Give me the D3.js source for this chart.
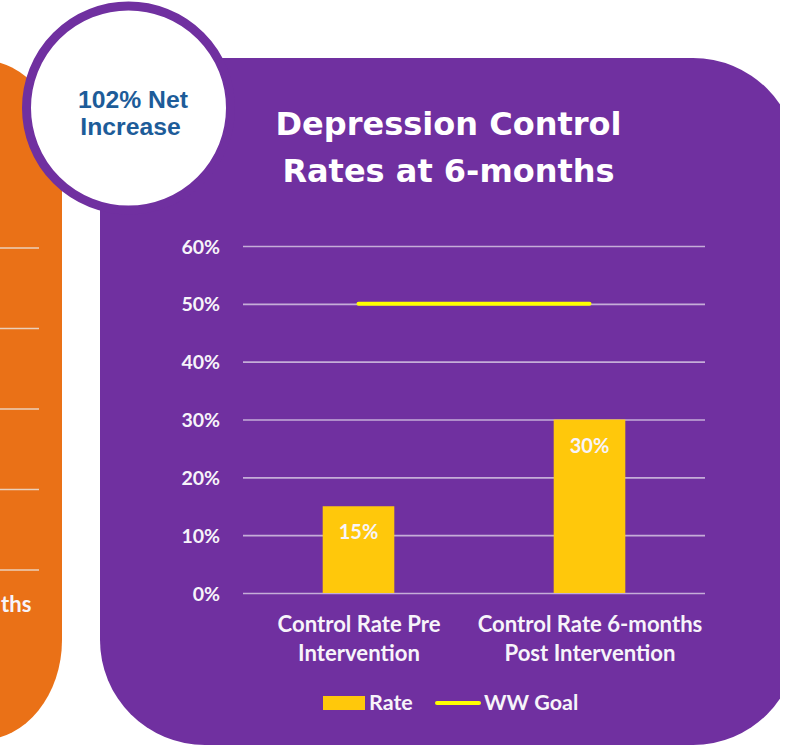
<!DOCTYPE html>
<html>
<head>
<meta charset="utf-8">
<script src="https://cdn.jsdelivr.net/npm/d3@7"></script>
<style>
  html, body { margin: 0; padding: 0; background: #ffffff; }
  svg { display: block; }
</style>
</head>
<body>
<svg id="chart" width="790" height="747"></svg>
<script>
// ---------- data ----------
const categories = [
  ["Control Rate Pre", "Intervention"],
  ["Control Rate 6-months", "Post Intervention"]
];
const rates = [0.15, 0.30];
const goal = [0.50, 0.50];
const yTicks = [0, 0.1, 0.2, 0.3, 0.4, 0.5, 0.6];
const titleLines = ["Depression Control", "Rates at 6-months"];
const badgeLines = ["102% Net", "Increase"];
const legendItems = ["Rate", "WW Goal"];
// partially visible neighbouring chart (orange panel)
const orangeTicks = [0, 1, 2, 3, 4];
const orangeLabel = "ths";

// ---------- colours ----------
const PURPLE = "#7030a0";
const ORANGE = "#ea7117";
const BAR = "#ffc80b";
const GOAL = "#ffff00";
const GRID = "rgba(225,215,235,0.75)";
const TEXT = "#f7f4fa";
const BADGE = "#1d5c99";

const svg = d3.select("#chart");

function fit(sel, target) {
  const w = sel.node().getComputedTextLength();
  const fs = parseFloat(sel.attr("font-size"));
  sel.attr("font-size", fs * target / w);
  return fs * target / w;
}

// ---------- orange neighbour panel ----------
svg.append("rect")
  .attr("x", -100).attr("y", 60).attr("width", 162).attr("height", 680)
  .attr("rx", 100).attr("ry", 100).attr("fill", ORANGE);

const yo = d3.scaleLinear().domain([0, 4]).range([570, 248]);
svg.append("g").selectAll("line").data(orangeTicks).join("line")
  .attr("x1", 0).attr("x2", 39)
  .attr("y1", d => yo(d)).attr("y2", d => yo(d))
  .attr("stroke", "rgba(235,225,215,0.85)").attr("stroke-width", 1.6);

// ---------- purple panel ----------
svg.append("rect")
  .attr("x", 100).attr("y", 58).attr("width", 698).attr("height", 687)
  .attr("rx", 105).attr("ry", 105).attr("fill", PURPLE);
svg.append("rect")
  .attr("x", 780).attr("y", 0).attr("width", 10).attr("height", 747)
  .attr("fill", "#ffffff");

// ---------- scales ----------
const x = d3.scaleBand().domain(d3.range(categories.length))
  .range([243, 705]).paddingInner(0.69).paddingOuter(0.345);
const y = d3.scaleLinear().domain([0, 0.6]).range([593, 246]);

// ---------- y axis + grid ----------
const yAxis = d3.axisLeft(y).tickValues(yTicks)
  .tickFormat(d3.format(".0%"))
  .tickSize(-(705 - 243)).tickPadding(23);
const gy = svg.append("g").attr("transform", "translate(243,0)").call(yAxis);
gy.select(".domain").remove();
gy.selectAll(".tick line").attr("stroke", GRID).attr("stroke-width", 1.6);
gy.selectAll(".tick text")
  .attr("fill", TEXT).attr("font-family", "Lato, 'Open Sans', sans-serif")
  .attr("font-weight", 700).attr("font-size", 19.5).attr("dy", "0.36em");

// ---------- bars ----------
svg.append("g").selectAll("rect").data(rates).join("rect")
  .attr("x", (d, i) => x(i)).attr("width", x.bandwidth())
  .attr("y", d => y(d)).attr("height", d => y(0) - y(d))
  .attr("fill", BAR);

svg.append("g").selectAll("text").data(rates).join("text")
  .attr("x", (d, i) => x(i) + x.bandwidth() / 2)
  .attr("y", d => y(d) + 33)
  .attr("text-anchor", "middle")
  .attr("fill", TEXT).attr("font-family", "Lato, 'Open Sans', sans-serif")
  .attr("font-weight", 700).attr("font-size", 20)
  .text(d => d3.format(".0%")(d));

// ---------- goal line ----------
const line = d3.line()
  .x((d, i) => x(i) + x.bandwidth() / 2)
  .y(d => y(d));
svg.append("path").datum(goal)
  .attr("d", line).attr("fill", "none")
  .attr("stroke", GOAL).attr("stroke-width", 4).attr("stroke-linecap", "round");

// ---------- category labels ----------
const probe = svg.append("text")
  .attr("font-family", "Lato, 'Open Sans', sans-serif").attr("font-weight", 700)
  .attr("font-size", 20).text(categories[0][0]);
const catSize = fit(probe, 163);
probe.remove();

const catG = svg.append("g").selectAll("text").data(categories).join("text")
  .attr("x", (d, i) => x(i) + x.bandwidth() / 2 + 0.5)
  .attr("text-anchor", "middle")
  .attr("fill", TEXT).attr("font-family", "Lato, 'Open Sans', sans-serif")
  .attr("font-weight", 700).attr("font-size", catSize);
catG.selectAll("tspan").data(d => d).join("tspan")
  .attr("x", function () { return d3.select(this.parentNode).attr("x"); })
  .attr("y", (d, j) => 632 + j * 29)
  .text(d => d);

// ---------- legend ----------
const lg = svg.append("g");
lg.append("rect").attr("x", 323).attr("y", 696).attr("width", 42).attr("height", 14).attr("fill", BAR);
lg.append("text").attr("x", 369).attr("y", 710)
  .attr("fill", TEXT).attr("font-family", "Lato, 'Open Sans', sans-serif")
  .attr("font-weight", 700).attr("font-size", catSize * 0.97).text(legendItems[0]);
lg.append("line").attr("x1", 437).attr("x2", 479).attr("y1", 703).attr("y2", 703)
  .attr("stroke", GOAL).attr("stroke-width", 4).attr("stroke-linecap", "round");
lg.append("text").attr("x", 484).attr("y", 710)
  .attr("fill", TEXT).attr("font-family", "Lato, 'Open Sans', sans-serif")
  .attr("font-weight", 700).attr("font-size", catSize * 0.97).text(legendItems[1]);

// ---------- orange partial label ----------
svg.append("text").attr("x", 1).attr("y", 612).attr("text-anchor", "start")
  .attr("fill", TEXT).attr("font-family", "Lato, 'Open Sans', sans-serif")
  .attr("font-weight", 700).attr("font-size", catSize).text(orangeLabel);

// ---------- title ----------
svg.append("g").selectAll("text").data(titleLines).join("text")
  .attr("x", 448.5).attr("y", (d, i) => 135 + i * 47)
  .attr("text-anchor", "middle")
  .attr("fill", "#ffffff").attr("font-family", "'DejaVu Sans', Verdana, sans-serif")
  .attr("font-weight", 700).attr("font-size", 32)
  .text(d => d);

// ---------- badge circle ----------
svg.append("circle").attr("cx", 128.5).attr("cy", 108).attr("r", 102)
  .attr("fill", "#ffffff").attr("stroke", PURPLE).attr("stroke-width", 9);
const badge = svg.append("g").selectAll("text").data(badgeLines).join("text")
  .attr("x", (d, i) => i === 0 ? 133 : 130.5)
  .attr("y", (d, i) => 108 + i * 27)
  .attr("text-anchor", "middle")
  .attr("fill", BADGE).attr("font-family", "'Liberation Sans', Arial, sans-serif")
  .attr("font-weight", 700).attr("font-size", 24)
  .text(d => d);
fit(d3.select(badge.nodes()[0]), 110);
d3.select(badge.nodes()[1]).attr("font-size", d3.select(badge.nodes()[0]).attr("font-size"));
</script>
</body>
</html>
